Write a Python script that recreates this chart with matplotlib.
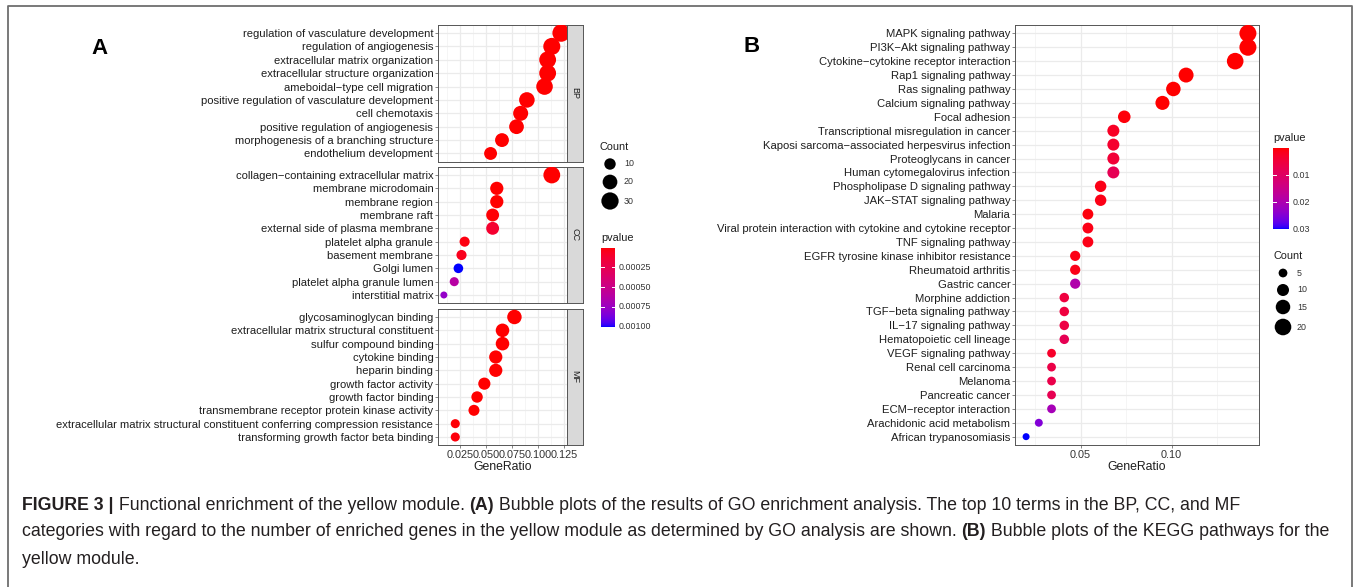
import numpy as np
import matplotlib.pyplot as plt
from matplotlib.colors import ListedColormap, Normalize
from matplotlib.ticker import MultipleLocator

plt.rcParams['font.family'] = ['Liberation Sans', 'DejaVu Sans']

# ---- panel A : GO terms (top to bottom) ----
bp_terms = ["regulation of vasculature development", "regulation of angiogenesis",
            "extracellular matrix organization", "extracellular structure organization",
            "ameboidal\u2212type cell migration", "positive regulation of vasculature development",
            "cell chemotaxis", "positive regulation of angiogenesis",
            "morphogenesis of a branching structure", "endothelium development"]
bp_ratio = [0.122, 0.113, 0.109, 0.109, 0.106, 0.089, 0.083, 0.079, 0.065, 0.054]
bp_count = [31, 29, 28, 28, 27, 23, 21, 20, 17, 14]
bp_pvalue = [1e-14, 1e-13, 1e-12, 1e-12, 1e-11, 1e-11, 1e-9, 1e-10, 1e-9, 1e-8]

cc_terms = ["collagen\u2212containing extracellular matrix", "membrane microdomain",
            "membrane region", "membrane raft", "external side of plasma membrane",
            "platelet alpha granule", "basement membrane", "Golgi lumen",
            "platelet alpha granule lumen", "interstitial matrix"]
cc_ratio = [0.113, 0.060, 0.060, 0.056, 0.056, 0.029, 0.026, 0.023, 0.019, 0.009]
cc_count = [28, 15, 15, 14, 14, 7, 7, 6, 5, 2]
cc_pvalue = [1e-12, 2e-6, 3e-6, 1e-5, 1.2e-4, 3e-5, 6e-5, 1.01e-3, 6.2e-4, 7.8e-4]

mf_terms = ["glycosaminoglycan binding", "extracellular matrix structural constituent",
            "sulfur compound binding", "cytokine binding", "heparin binding",
            "growth factor activity", "growth factor binding",
            "transmembrane receptor protein kinase activity",
            "extracellular matrix structural constituent conferring compression resistance",
            "transforming growth factor beta binding"]
mf_ratio = [0.077, 0.0655, 0.0655, 0.059, 0.059, 0.048, 0.041, 0.038, 0.020, 0.020]
mf_count = [19, 16, 16, 15, 15, 12, 10, 9, 5, 5]
mf_pvalue = [1e-10, 1e-8, 1e-9, 1e-8, 1e-8, 1e-7, 1e-6, 2e-6, 1e-5, 2e-5]

a_xticks = [0.025, 0.050, 0.075, 0.100, 0.125]
a_xticklabels = ["0.025", "0.050", "0.075", "0.100", "0.125"]
a_pticks = [0.00025, 0.00050, 0.00075, 0.00100]
a_pticklabels = ["0.00025", "0.00050", "0.00075", "0.00100"]
a_size_breaks = [10, 20, 30]

# ---- panel B : KEGG pathways (top to bottom) ----
kegg_terms = ["MAPK signaling pathway", "PI3K\u2212Akt signaling pathway",
              "Cytokine\u2212cytokine receptor interaction", "Rap1 signaling pathway",
              "Ras signaling pathway", "Calcium signaling pathway", "Focal adhesion",
              "Transcriptional misregulation in cancer",
              "Kaposi sarcoma\u2212associated herpesvirus infection", "Proteoglycans in cancer",
              "Human cytomegalovirus infection", "Phospholipase D signaling pathway",
              "JAK\u2212STAT signaling pathway", "Malaria",
              "Viral protein interaction with cytokine and cytokine receptor",
              "TNF signaling pathway", "EGFR tyrosine kinase inhibitor resistance",
              "Rheumatoid arthritis", "Gastric cancer", "Morphine addiction",
              "TGF\u2212beta signaling pathway", "IL\u221217 signaling pathway",
              "Hematopoietic cell lineage", "VEGF signaling pathway", "Renal cell carcinoma",
              "Melanoma", "Pancreatic cancer", "ECM\u2212receptor interaction",
              "Arachidonic acid metabolism", "African trypanosomiasis"]
kegg_ratio = [0.142, 0.142, 0.135, 0.108, 0.101, 0.095, 0.074, 0.068, 0.068, 0.068,
              0.068, 0.061, 0.061, 0.054, 0.054, 0.054, 0.047, 0.047, 0.047, 0.041,
              0.041, 0.041, 0.041, 0.034, 0.034, 0.034, 0.034, 0.034, 0.027, 0.020]
kegg_count = [21, 21, 20, 16, 15, 14, 11, 10, 10, 10, 10, 9, 9, 8, 8, 8, 7, 7, 7, 6,
              6, 6, 6, 5, 5, 5, 5, 5, 4, 3]
kegg_pvalue = [1e-6, 1e-7, 1e-6, 1e-6, 1e-5, 1e-5, 5e-4, 0.0025, 0.0035, 0.0045,
               0.0080, 0.0012, 0.0012, 0.0006, 0.0012, 0.0012, 0.0012, 0.0015, 0.0195, 0.0055,
               0.0055, 0.0060, 0.0080, 0.0030, 0.0065, 0.0068, 0.0078, 0.0210, 0.0250, 0.0300]

b_xticks = [0.05, 0.10]
b_xticklabels = ["0.05", "0.10"]
b_pticks = [0.01, 0.02, 0.03]
b_pticklabels = ["0.01", "0.02", "0.03"]
b_size_breaks = [5, 10, 15, 20]

W, H = 1356, 587
fig = plt.figure(figsize=(W / 100, H / 100), dpi=100)


def box(x0, y0, x1, y1):
    return [x0 / W, 1 - y1 / H, (x1 - x0) / W, (y1 - y0) / H]


# red -> blue gradient interpolated in CIELAB, like ggplot's scale_colour_continuous
WHITE = np.array([0.95047, 1.0, 1.08883])
M = np.array([[0.4124, 0.3576, 0.1805], [0.2126, 0.7152, 0.0722], [0.0193, 0.1192, 0.9505]])


def rgb2lab(rgb):
    c = np.where(rgb <= 0.04045, rgb / 12.92, ((rgb + 0.055) / 1.055) ** 2.4)
    t = M @ c / WHITE
    f = np.where(t > 0.008856, np.cbrt(t), 7.787 * t + 16 / 116)
    return np.array([116 * f[1] - 16, 500 * (f[0] - f[1]), 200 * (f[1] - f[2])])


def lab2rgb(lab):
    fy = (lab[0] + 16) / 116
    f = np.array([fy + lab[1] / 500, fy, fy - lab[2] / 200])
    t = np.where(f > 0.2069, f ** 3, (f - 16 / 116) / 7.787) * WHITE
    c = np.linalg.solve(M, t)
    c = np.where(c <= 0.0031308, 12.92 * c, 1.055 * np.clip(c, 0, None) ** (1 / 2.4) - 0.055)
    return np.clip(c, 0, 1)


lab_red = rgb2lab(np.array([1.0, 0, 0]))
lab_blue = rgb2lab(np.array([0, 0, 1.0]))
cmap = ListedColormap([lab2rgb(lab_red + (lab_blue - lab_red) * t) for t in np.linspace(0, 1, 256)])

TXT = '#1E1E1E'


def size_fn(counts, cmin, cmax, dmin, dmax):
    c = np.sqrt(np.asarray(counts, float))
    d = dmin + (dmax - dmin) * (c - np.sqrt(cmin)) / (np.sqrt(cmax) - np.sqrt(cmin))
    return (d * 0.72) ** 2


def dot_panel(ax, terms, ratio, count, pvalue, xlim, norm, sizes):
    y = np.arange(len(terms))[::-1] + 1
    order = np.argsort(pvalue)
    ax.scatter(np.asarray(ratio)[order], y[order], s=np.asarray(sizes)[order],
               c=np.asarray(pvalue)[order], cmap=cmap, norm=norm, linewidths=0, zorder=3)
    ax.set_yticks(y)
    ax.set_yticklabels(terms)
    ax.set_ylim(0.4, len(terms) + 0.6)
    ax.set_xlim(xlim)
    ax.grid(which='major', color='#EBEBEB', lw=0.9, zorder=0)
    ax.grid(which='minor', axis='x', color='#F4F4F4', lw=0.6, zorder=0)
    ax.set_axisbelow(True)
    for s in ax.spines.values():
        s.set_color('#555555')
        s.set_linewidth(0.7)
    ax.tick_params(axis='both', which='major', length=2.2, width=0.5, color='#555555',
                   labelsize=8.15, labelcolor=TXT, pad=1.2)
    ax.tick_params(axis='x', which='minor', length=0)
    ax.tick_params(axis='x', which='major', labelsize=7.8, labelcolor='#333333')


def expand(lo, hi):
    r = hi - lo
    return lo - 0.05 * r, hi + 0.05 * r


# ---------- panel A ----------
all_ratio = bp_ratio + cc_ratio + mf_ratio
all_count = bp_count + cc_count + mf_count
a_xlim = expand(min(all_ratio), max(all_ratio))
a_norm = Normalize(0, max(bp_pvalue + cc_pvalue + mf_pvalue))
a_cmin, a_cmax = min(all_count), max(all_count)

facets = [("BP", bp_terms, bp_ratio, bp_count, bp_pvalue, 25, 161.5),
          ("CC", cc_terms, cc_ratio, cc_count, cc_pvalue, 167, 303),
          ("MF", mf_terms, mf_ratio, mf_count, mf_pvalue, 309, 445)]
for i, (name, terms, ratio, count, pv, y0, y1) in enumerate(facets):
    ax = fig.add_axes(box(438, y0, 567, y1))
    dot_panel(ax, terms, ratio, count, pv, a_xlim, a_norm,
              size_fn(count, a_cmin, a_cmax, 7, 17.5))
    ax.xaxis.set_major_locator(MultipleLocator(0.025))
    ax.xaxis.set_minor_locator(MultipleLocator(0.0125))
    if i < 2:
        ax.tick_params(axis='x', which='major', length=0, labelbottom=False)
    else:
        ax.set_xticks(a_xticks)
        ax.set_xticklabels(a_xticklabels)
        ax.set_xlabel("GeneRatio", fontsize=8.8, color=TXT, labelpad=1)
    sax = fig.add_axes(box(567, y0, 583, y1))
    sax.set_facecolor('#D9D9D9')
    sax.set_xticks([])
    sax.set_yticks([])
    for s in sax.spines.values():
        s.set_color('#555555')
        s.set_linewidth(0.7)
    sax.text(0.5, 0.5, name, rotation=-90, ha='center', va='center', fontsize=6.5,
             color=TXT, transform=sax.transAxes)

# ---------- panel B ----------
b_xlim = expand(min(kegg_ratio), max(kegg_ratio))
b_norm = Normalize(0, max(kegg_pvalue))
axb = fig.add_axes(box(1015, 25, 1259, 445))
dot_panel(axb, kegg_terms, kegg_ratio, kegg_count, kegg_pvalue, b_xlim, b_norm,
          size_fn(kegg_count, min(kegg_count), max(kegg_count), 7, 17))
axb.set_xticks(b_xticks)
axb.set_xticklabels(b_xticklabels)
axb.xaxis.set_minor_locator(MultipleLocator(0.025))
axb.set_xlabel("GeneRatio", fontsize=8.8, color=TXT, labelpad=1)

# ---------- overlay: legends, labels, frame, caption ----------
ov = fig.add_axes([0, 0, 1, 1], zorder=-1)
ov.set_xlim(0, W)
ov.set_ylim(H, 0)
ov.axis('off')
ov.plot([8, 8, 1352, 1352], [H + 5, 6, 6, H + 5], color='#6E6E6E', lw=1.3, clip_on=False)

ov.text(100, 48, "A", fontsize=16, fontweight='bold', ha='center', va='center')
ov.text(752, 46, "B", fontsize=16, fontweight='bold', ha='center', va='center')


def size_legend(x, ytitle, ys, breaks, cmin, cmax, dmin, dmax):
    ov.text(x - 10, ytitle, "Count", fontsize=7.8, color=TXT, va='center')
    ov.scatter([x] * len(breaks), ys, s=size_fn(breaks, cmin, cmax, dmin, dmax),
               color='black', linewidths=0)
    for yy, b in zip(ys, breaks):
        ov.text(x + 14, yy, str(b), fontsize=6.4, color='#333333', va='center')


def color_legend(x0, x1, ytitle, y0, y1, ticks, labels, vmax):
    ov.text(x0, ytitle, "pvalue", fontsize=7.8, color=TXT, va='center')
    cax = fig.add_axes(box(x0, y0, x1, y1))
    cax.imshow(np.linspace(0, 1, 256)[:, None], cmap=cmap, aspect='auto', extent=(0, 1, 1, 0))
    cax.set_xlim(0, 1)
    cax.set_ylim(1, 0)
    cax.axis('off')
    for t, lab in zip(ticks, labels):
        f = t / vmax
        cax.plot([0, 0.2], [f, f], color='white', lw=0.7)
        cax.plot([0.8, 1], [f, f], color='white', lw=0.7)
        ov.text(x1 + 4, y0 + f * (y1 - y0), lab, fontsize=6.4, color='#333333', va='center')


size_legend(610, 147, [164, 182, 201], a_size_breaks, a_cmin, a_cmax, 7, 17.5)
color_legend(601, 615, 238, 247.5, 327.5, a_pticks, a_pticklabels, a_norm.vmax)
color_legend(1273, 1289, 138, 148.5, 229, b_pticks, b_pticklabels, b_norm.vmax)
size_legend(1283, 256, [273, 290, 307, 327], b_size_breaks,
            min(kegg_count), max(kegg_count), 7, 17)

# caption
cap_lines = [
    [("FIGURE 3 |", True), (" Functional enrichment of the yellow module. ", False), ("(A)", True),
     (" Bubble plots of the results of GO enrichment analysis. The top 10 terms in the BP, CC, and MF", False)],
    [("categories with regard to the number of enriched genes in the yellow module as determined by GO analysis are shown. ", False),
     ("(B)", True), (" Bubble plots of the KEGG pathways for the", False)],
    [("yellow module.", False)],
]
for yy, parts in zip([505, 532, 559], cap_lines):
    prev = None
    for txt, bold in parts:
        kw = dict(fontsize=12.8, color='#231F20', fontweight='bold' if bold else 'normal')
        if prev is None:
            prev = ov.text(22, yy, txt, va='center', ha='left', **kw)
        else:
            prev = ov.annotate(txt, xy=(1, 0), xycoords=prev, va='bottom', ha='left', **kw)

fig.savefig("out.png", dpi=100)
